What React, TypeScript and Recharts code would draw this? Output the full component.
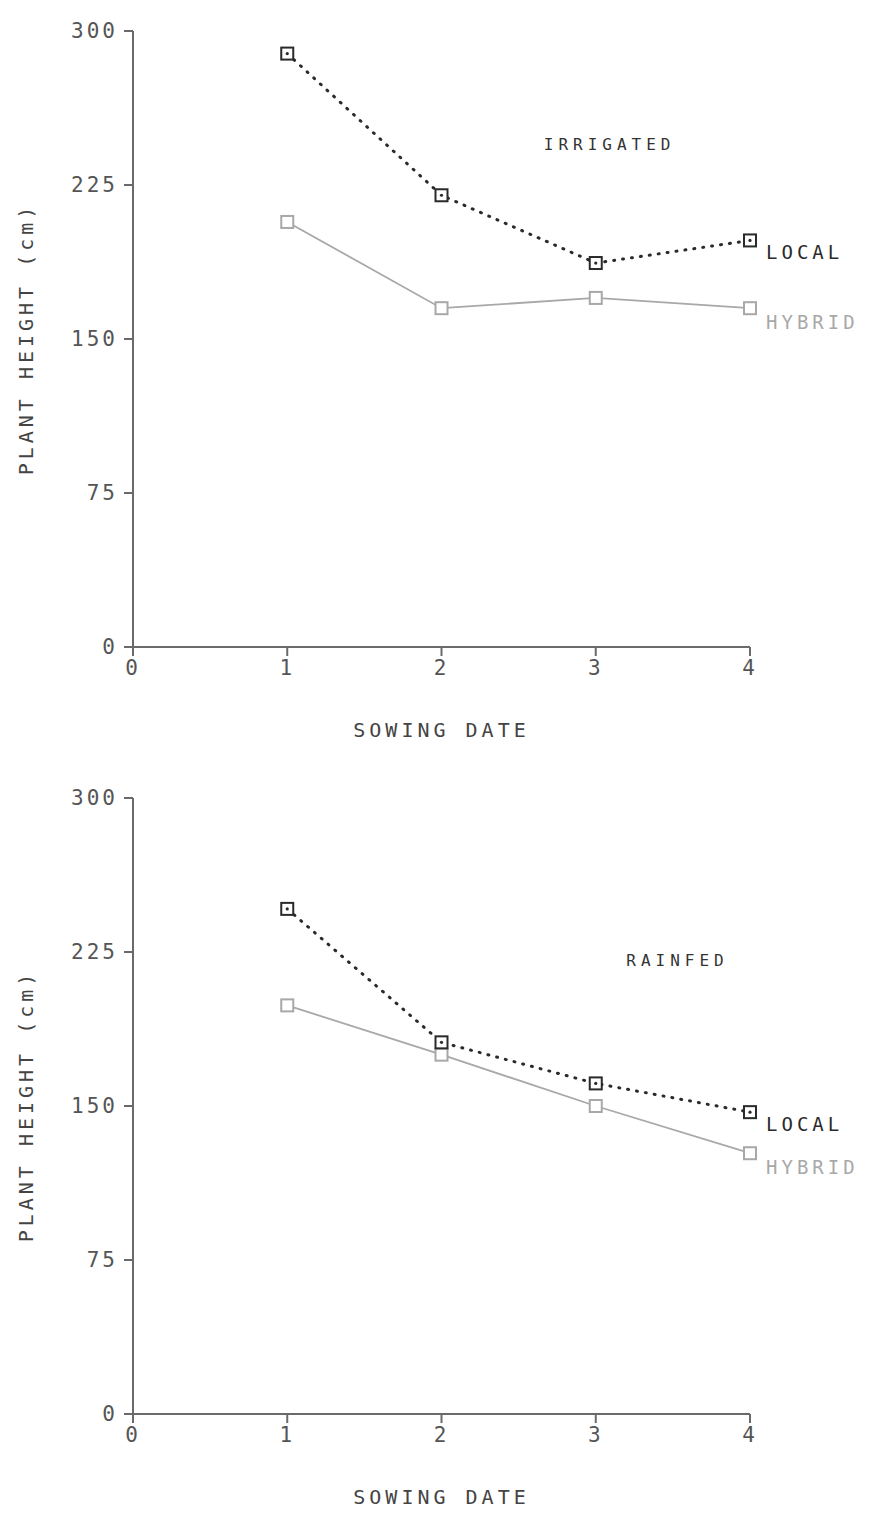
import React from 'react';
import { LineChart, Line, XAxis, YAxis, ReferenceDot } from 'recharts';

const sowingDates = [1, 2, 3, 4];
const irrigatedLocal = [289, 220, 187, 198];
const irrigatedHybrid = [207, 165, 170, 165];
const rainfedLocal = [246, 181, 161, 147];
const rainfedHybrid = [199, 175, 150, 127];
const xTicks = [0, 1, 2, 3, 4];
const yTicks = [0, 75, 150, 225, 300];

const FONT = '"DejaVu Sans Mono", monospace';
const AXIS = '#6a6a6a';
const LOCAL_COLOR = '#2a2a2a';
const HYBRID_COLOR = '#a8a8a8';

const buildRows = (local: number[], hybrid: number[]) =>
  sowingDates.map((x, i) => ({ x, local: local[i], hybrid: hybrid[i] }));

const SquareDot = (props: any) => {
  const { cx, cy, index, color, center, name, labelDy } = props;
  if (cx == null || cy == null) return null;
  return (
    <g>
      <rect x={cx - 6} y={cy - 6} width={12} height={12} fill="#fff" stroke={color} strokeWidth={2} />
      {center && <circle cx={cx} cy={cy} r={1.6} fill={color} />}
      {index === sowingDates.length - 1 && (
        <text
          x={cx + 16}
          y={cy + labelDy}
          fill={color}
          fontFamily={FONT}
          fontSize={19}
          letterSpacing={4}
          dominantBaseline="central"
        >
          {name}
        </text>
      )}
    </g>
  );
};

interface PanelProps {
  local: number[];
  hybrid: number[];
  title: string;
  titleX: number;
  titleY: number;
}

const Panel: React.FC<PanelProps> = ({ local, hybrid, title, titleX, titleY }) => {
  const rows = buildRows(local, hybrid);
  const tick = { fill: '#555', fontSize: 21, fontFamily: FONT, letterSpacing: 3 };
  return (
    <LineChart width={873} height={767} data={rows} margin={{ top: 31, right: 123, bottom: 30, left: 0 }}>
      <XAxis
        dataKey="x"
        type="number"
        domain={[0, 4]}
        ticks={xTicks}
        axisLine={{ stroke: AXIS, strokeWidth: 2 }}
        tickLine={{ stroke: AXIS, strokeWidth: 2 }}
        tickSize={9}
        tickMargin={4}
        tick={tick}
        height={90}
        label={{
          value: 'SOWING DATE',
          position: 'insideBottom',
          offset: 0,
          fill: '#444',
          fontSize: 20,
          fontFamily: FONT,
          letterSpacing: 4,
        }}
      />
      <YAxis
        type="number"
        domain={[0, 300]}
        ticks={yTicks}
        width={133}
        axisLine={{ stroke: AXIS, strokeWidth: 2 }}
        tickLine={{ stroke: AXIS, strokeWidth: 2 }}
        tickSize={9}
        tickMargin={6}
        tick={tick}
        label={{
          value: 'PLANT HEIGHT (cm)',
          angle: -90,
          position: 'insideLeft',
          offset: 26,
          fill: '#444',
          fontSize: 20,
          fontFamily: FONT,
          letterSpacing: 4,
          style: { textAnchor: 'middle' },
        }}
      />
      <ReferenceDot
        x={titleX}
        y={titleY}
        r={0}
        label={{ value: title, position: 'center', fill: '#333', fontSize: 16, fontFamily: FONT, letterSpacing: 5 }}
      />
      <Line
        dataKey="hybrid"
        type="linear"
        stroke={HYBRID_COLOR}
        strokeWidth={1.8}
        isAnimationActive={false}
        dot={(p: any) => (
          <SquareDot key={`h-${p.index}`} {...p} color={HYBRID_COLOR} center={false} name="HYBRID" labelDy={14} />
        )}
      />
      <Line
        dataKey="local"
        type="linear"
        stroke={LOCAL_COLOR}
        strokeWidth={3}
        strokeDasharray="1 8"
        strokeLinecap="round"
        isAnimationActive={false}
        dot={(p: any) => (
          <SquareDot key={`l-${p.index}`} {...p} color={LOCAL_COLOR} center name="LOCAL" labelDy={12} />
        )}
      />
    </LineChart>
  );
};

const App: React.FC = () => {
  return (
    <div style={{ position: 'absolute', left: 0, top: 0, width: 873, height: 1513, background: '#fff' }}>
      <div style={{ position: 'absolute', left: 0, top: 0 }}>
        <Panel local={irrigatedLocal} hybrid={irrigatedHybrid} title="IRRIGATED" titleX={3.09} titleY={245} />
      </div>
      <div style={{ position: 'absolute', left: 0, top: 767 }}>
        <Panel local={rainfedLocal} hybrid={rainfedHybrid} title="RAINFED" titleX={3.53} titleY={221} />
      </div>
    </div>
  );
};

export default App;
